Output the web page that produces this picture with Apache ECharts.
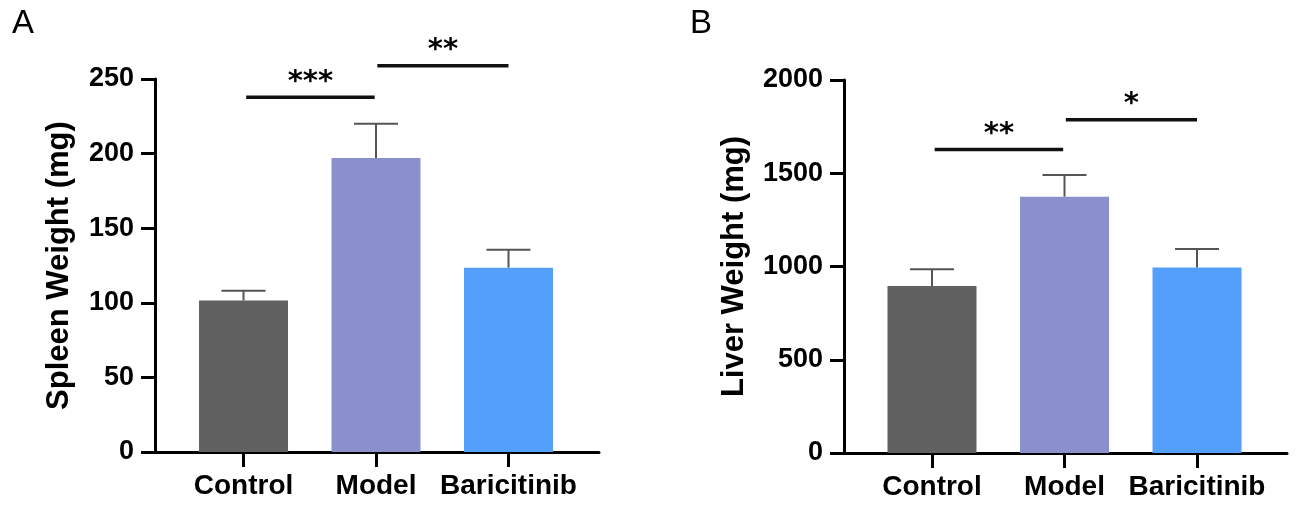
<!DOCTYPE html>
<html>
<head>
<meta charset="utf-8">
<script src="https://cdn.jsdelivr.net/npm/echarts@6/dist/echarts.min.js"></script>
<style>
    html, body { margin: 0; padding: 0; background: #fff; }
    #main { width: 1304px; height: 514px; }
</style>
</head>
<body>
<div id="main"></div>
<script>
// 数据
var categories = ['Control', 'Model', 'Baricitinib'];
var barColors = ['#616161', '#8A90CC', '#549FFC'];

var spleenMean = [101.5, 197, 123.5];
var spleenSd = [6.5, 23, 12];
var spleenTicks = [0, 50, 100, 150, 200, 250];
// [from, to, y, 星号]
var spleenSig = [[0.02, 0.99, 237.7, '***'], [1.01, 2.0, 258.9, '**']];

var liverMean = [895, 1374, 994];
var liverSd = [90, 117, 100];
var liverTicks = [0, 500, 1000, 1500, 2000];
var liverSig = [[0.02, 0.99, 1628, '**'], [1.01, 2.0, 1787, '*']];

var FONT = '"Liberation Sans", Arial, sans-serif';

function barData(means) {
    var arr = [];
    for (var i = 0; i < means.length; i++) {
        arr.push({ value: [i, means[i]], itemStyle: { color: barColors[i] } });
    }
    return arr;
}

function errData(means, sds) {
    var arr = [];
    for (var i = 0; i < means.length; i++) {
        arr.push([i, means[i], means[i] + sds[i]]);
    }
    return arr;
}

// 误差线
function renderErr(params, api) {
    var p0 = api.coord([api.value(0), api.value(1)]);
    var p1 = api.coord([api.value(0), api.value(2)]);
    var st = { stroke: '#555', lineWidth: 2 };
    return {
        type: 'group',
        children: [
            { type: 'line', shape: { x1: p0[0], y1: p0[1], x2: p1[0], y2: p1[1] }, style: st },
            { type: 'line', shape: { x1: p1[0] - 22, y1: p1[1], x2: p1[0] + 22, y2: p1[1] }, style: st }
        ]
    };
}

// 显著性标记
function renderSig(params, api) {
    var a = api.coord([api.value(0), api.value(2)]);
    var b = api.coord([api.value(1), api.value(2)]);
    return {
        type: 'group',
        children: [
            { type: 'line', shape: { x1: a[0], y1: a[1], x2: b[0], y2: b[1] },
              style: { stroke: '#111', lineWidth: 3.5 } },
            { type: 'text', x: (a[0] + b[0]) / 2, y: a[1] - 15,
              style: { text: api.value(3), fill: '#000', font: 'bold 29px "DejaVu Sans", sans-serif',
                       align: 'center', verticalAlign: 'middle' } }
        ]
    };
}

function xAxisOpt(idx, min, max) {
    return {
        type: 'value', gridIndex: idx, min: min, max: max,
        splitLine: { show: false },
        axisLine: { show: true, lineStyle: { color: '#000', width: 3 } },
        axisTick: { show: true, length: 15, lineStyle: { color: '#000', width: 3 }, customValues: [0, 1, 2] },
        axisLabel: {
            customValues: [0, 1, 2], margin: 20,
            formatter: function (v) { return categories[Math.round(v)] || ''; },
            color: '#000', fontSize: 28, fontWeight: 'bold', fontFamily: FONT
        }
    };
}

function yAxisOpt(idx, ticks, name, gap) {
    return {
        type: 'value', gridIndex: idx,
        min: ticks[0], max: ticks[ticks.length - 1], interval: ticks[1] - ticks[0],
        name: name, nameLocation: 'middle', nameGap: gap,
        nameTextStyle: { color: '#000', fontSize: 31, fontWeight: 'bold', fontFamily: FONT },
        splitLine: { show: false },
        axisLine: { show: true, onZero: false, lineStyle: { color: '#000', width: 3 } },
        axisTick: { show: true, length: 14, lineStyle: { color: '#000', width: 3 } },
        axisLabel: {
            margin: 21, color: '#000', fontSize: 27, fontWeight: 'bold', fontFamily: FONT,
            formatter: function (v) { return String(v); }
        }
    };
}

var option = {
    backgroundColor: '#fff',
    animation: false,
    title: [
        { text: 'A', left: 7, top: 2, textStyle: { fontSize: 33, fontWeight: 'normal', color: '#000', fontFamily: FONT } },
        { text: 'B', left: 685, top: 2, textStyle: { fontSize: 33, fontWeight: 'normal', color: '#000', fontFamily: FONT } }
    ],
    grid: [
        { left: 155, right: 705, top: 79, bottom: 62 },
        { left: 844, right: 17, top: 80, bottom: 61 }
    ],
    xAxis: [xAxisOpt(0, -0.668, 2.683), xAxisOpt(1, -0.664, 2.679)],
    yAxis: [yAxisOpt(0, spleenTicks, 'Spleen Weight (mg)', 80), yAxisOpt(1, liverTicks, 'Liver Weight (mg)', 94)],
    series: [
        { type: 'bar', xAxisIndex: 0, yAxisIndex: 0, barWidth: 89, data: barData(spleenMean) },
        { type: 'custom', xAxisIndex: 0, yAxisIndex: 0, clip: false, renderItem: renderErr, data: errData(spleenMean, spleenSd) },
        { type: 'custom', xAxisIndex: 0, yAxisIndex: 0, clip: false, renderItem: renderSig, data: spleenSig },
        { type: 'bar', xAxisIndex: 1, yAxisIndex: 1, barWidth: 89, data: barData(liverMean) },
        { type: 'custom', xAxisIndex: 1, yAxisIndex: 1, clip: false, renderItem: renderErr, data: errData(liverMean, liverSd) },
        { type: 'custom', xAxisIndex: 1, yAxisIndex: 1, clip: false, renderItem: renderSig, data: liverSig }
    ]
};

var myChart = echarts.init(document.getElementById('main'));
myChart.setOption(option);
</script>
</body>
</html>
